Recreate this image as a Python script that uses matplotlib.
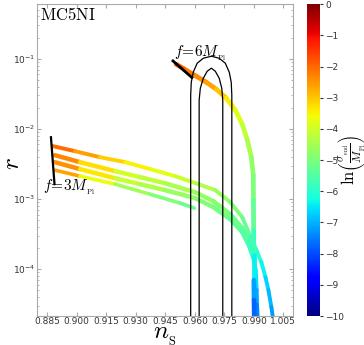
import numpy as np
import matplotlib
matplotlib.use('Agg')
import matplotlib.pyplot as plt
from matplotlib.collections import LineCollection
from matplotlib.colors import Normalize

# ---------------- data ----------------
# Planck contours (outer 95%, inner 68%)
outer_ns = [0.9579, 0.9579, 0.9582, 0.9592, 0.9612, 0.9643, 0.9684, 0.9724, 0.9755, 0.9775, 0.9785, 0.9788, 0.9788]
outer_r = [1.0e-5, 0.0302, 0.0462, 0.0643, 0.0863, 0.1016, 0.1086, 0.1016, 0.0863, 0.0643, 0.0462, 0.0302, 1.0e-5]
inner_ns = [0.9622, 0.9622, 0.9628, 0.9643, 0.9663, 0.9684, 0.9704, 0.9724, 0.9737, 0.9742, 0.9742]
inner_r = [1.0e-5, 0.0256, 0.0380, 0.0527, 0.0664, 0.0733, 0.0664, 0.0527, 0.0380, 0.0256, 1.0e-5]

# f = 3 M_Pl end line and f = 6 M_Pl end line
f3_ns = [0.8869, 0.8887]
f3_r = [7.6e-3, 1.63e-3]
f6_ns = [0.9489, 0.9585]
f6_r = [0.0930, 0.0540]

# f = 6 band: ns, r, ln(sigma_end/M_Pl)
b6_ns = [0.9505, 0.9556, 0.9607, 0.9658, 0.9709, 0.9760, 0.9806, 0.9841, 0.9867, 0.9887, 0.9897, 0.9898, 0.9899, 0.9900, 0.9900, 0.9901, 0.9902]
b6_r = [0.0835, 0.0686, 0.0564, 0.0463, 0.0368, 0.0274, 0.01845, 0.01166, 6.9e-3, 3.95e-3, 2.19e-3, 9.64e-4, 3.6e-4, 1.59e-4, 7.0e-5, 3.63e-5, 2.01e-5]
b6_c = [-1.8, -2.1, -2.3, -2.5, -2.8, -3.2, -3.6, -4.0, -4.3, -4.6, -4.9, -5.1, -5.5, -6.0, -6.8, -7.5, -8.0]

# f = 3 bands
s1_ns = [0.8879, 0.8991, 0.9118, 0.9246, 0.9373, 0.9500, 0.9602, 0.9704, 0.9780, 0.9841, 0.9882, 0.9913, 0.9938, 0.9959, 0.9974, 0.9989, 0.9997]
s1_r = [5.68e-3, 4.81e-3, 3.95e-3, 3.36e-3, 2.67e-3, 2.12e-3, 1.69e-3, 1.34e-3, 9.04e-4, 5.52e-4, 2.96e-4, 1.87e-4, 1.26e-4, 7.71e-5, 5.03e-5, 2.88e-5, 2.01e-5]
s1_c = [-1.8, -2.3, -2.9, -3.3, -3.6, -3.9, -4.2, -4.5, -4.8, -5.1, -5.5, -5.9, -6.2, -6.5, -6.8, -7.1, -7.3]

s2a_ns = [0.8889, 0.9017, 0.9195, 0.9322, 0.9449, 0.9602, 0.9694, 0.9780, 0.9841, 0.9877, 0.9897, 0.9908, 0.9913, 0.9915, 0.9918]
s2a_r = [4.22e-3, 3.35e-3, 2.50e-3, 2.05e-3, 1.68e-3, 1.25e-3, 9.33e-4, 6.09e-4, 3.85e-4, 2.43e-4, 1.59e-4, 9.71e-5, 5.04e-5, 3.08e-5, 2.01e-5]
s2a_c = [-2.0, -2.7, -3.8, -4.1, -4.3, -4.6, -4.8, -5.0, -5.3, -5.6, -5.9, -6.3, -6.9, -7.3, -7.6]

s2b_ns = [0.8889, 0.9017, 0.9195, 0.9322, 0.9449, 0.9602, 0.9694, 0.9780, 0.9841, 0.9877, 0.9897]
s2b_r = [3.35e-3, 2.67e-3, 1.98e-3, 1.63e-3, 1.34e-3, 1.03e-3, 7.67e-4, 5.17e-4, 3.38e-4, 2.13e-4, 1.44e-4]
s2b_c = [-2.1, -2.8, -3.9, -4.3, -4.5, -4.8, -5.0, -5.2, -5.4, -5.7, -6.0]

s3_ns = [0.8889, 0.9017, 0.9195, 0.9373, 0.9526, 0.9597]
s3_r = [2.58e-3, 2.12e-3, 1.63e-3, 1.17e-3, 8.74e-4, 7.42e-4]
s3_c = [-2.3, -3.0, -4.3, -4.8, -5.1, -5.3]

xticks = [0.885, 0.900, 0.915, 0.930, 0.945, 0.960, 0.975, 0.990, 1.005]
yticks = [1e-4, 1e-3, 1e-2, 1e-1]
cticks = [0, -1, -2, -3, -4, -5, -6, -7, -8, -9, -10]

cmap = plt.get_cmap('jet')
norm = Normalize(vmin=-10, vmax=0)


def band(ax, ns, r, c, lw):
    # colour each segment by the mean of its end values
    pts = np.column_stack([ns, r])
    segs = [pts[i:i + 2] for i in range(len(pts) - 1)]
    cols = [(c[i] + c[i + 1]) / 2.0 for i in range(len(c) - 1)]
    lc = LineCollection(segs, cmap=cmap, norm=norm, linewidths=lw, capstyle='round', joinstyle='round')
    lc.set_array(np.array(cols))
    ax.add_collection(lc)


fig = plt.figure(figsize=(3.64, 3.45), dpi=100)
ax = fig.add_axes([0.1016, 0.084, 0.7034, 0.904])
ax.set_yscale('log')
ax.set_xlim(0.8798, 1.0099)
ax.set_ylim(2.15e-5, 0.6)

band(ax, s3_ns, s3_r, s3_c, 2.6)
band(ax, s2b_ns, s2b_r, s2b_c, 3.2)
band(ax, s2a_ns, s2a_r, s2a_c, 3.2)
band(ax, s1_ns, s1_r, s1_c, 2.8)
band(ax, b6_ns, b6_r, b6_c, 3.4)

ax.plot(f3_ns, f3_r, color='k', lw=1.6)
ax.plot(f6_ns, f6_r, color='k', lw=2.0)
ax.plot(outer_ns, outer_r, color='k', lw=0.9)
ax.plot(inner_ns, inner_r, color='k', lw=0.9)

ax.set_xticks(xticks)
ax.set_xticklabels(['%.3f' % v for v in xticks])
ax.set_yticks(yticks)
ax.tick_params(axis='both', which='both', direction='in', top=True, right=True,
               labelsize=6.5, colors='#333333', color='#aaaaaa', length=3, pad=1)
ax.tick_params(axis='both', which='minor', length=1.5)
for s in ax.spines.values():
    s.set_color('#aaaaaa')

ax.set_xlabel(r'$n_{_{\rm S}}$', fontsize=18, math_fontfamily='cm')
ax.xaxis.set_label_coords(0.5, -0.022)
ax.set_ylabel(r'$r$', fontsize=18, math_fontfamily='cm')
ax.yaxis.set_label_coords(-0.052, 0.49)

ax.text(0.012, 0.995, r'$\mathrm{MC5NI}$', transform=ax.transAxes, fontsize=12,
        math_fontfamily='cm', ha='left', va='top')
ax.text(0.8828, 1.48e-3, r'$f\!=\!3M_{_{\rm Pl}}$', fontsize=11, math_fontfamily='cm',
        ha='left', va='center')
ax.text(0.9495, 0.1197, r'$f\!=\!6M_{_{\rm Pl}}$', fontsize=11, math_fontfamily='cm',
        ha='left', va='center')

cax = fig.add_axes([0.843, 0.084, 0.036, 0.904])
sm = plt.cm.ScalarMappable(cmap=cmap, norm=norm)
cb = fig.colorbar(sm, cax=cax, ticks=cticks)
cb.outline.set_visible(False)
cb.ax.tick_params(labelsize=6.5, length=2, colors='#333333', pad=2)
cb.set_label(r'$\ln\!\left(\frac{\sigma_{_{\rm end}}}{M_{_{\rm Pl}}}\right)$', fontsize=12,
             math_fontfamily='cm')
cax.yaxis.set_label_coords(2.25, 0.5)

fig.savefig('out.png', dpi=100)
